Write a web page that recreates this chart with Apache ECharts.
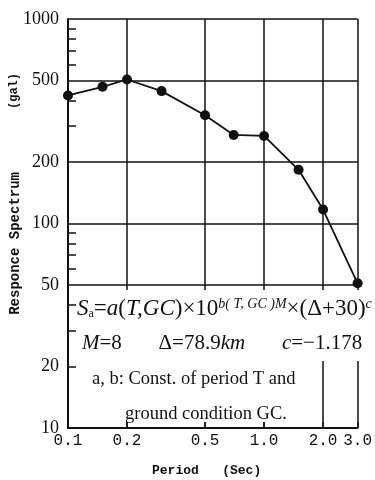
<!DOCTYPE html>
<html>
<head>
<meta charset="utf-8">
<script src="https://cdn.jsdelivr.net/npm/echarts@6/dist/echarts.min.js"></script>
<style>
    html, body { margin: 0; padding: 0; background: #fff; }
    #chart { width: 375px; height: 480px; }
</style>
</head>
<body>
<div id="chart"></div>
<script>
// periods (sec) and response spectrum values (gal)
var periods = [0.1, 0.15, 0.2, 0.3, 0.5, 0.7, 1.0, 1.5, 2.0, 3.0];
var spectrum = [423, 466, 506, 444, 338, 271, 268, 183, 117, 51];

// tick labels
var xLabels = [0.1, 0.2, 0.5, 1.0, 2.0, 3.0];
var yLabels = [10, 20, 50, 100, 200, 500, 1000];
var yGrid = [50, 100, 200, 500, 1000];
var yMinor = [20, 30, 40, 60, 70, 80, 90, 300, 400, 600, 700, 800, 900];

var serif = '"Liberation Serif", "DejaVu Serif", serif';
var mono = '"Liberation Mono", "DejaVu Sans Mono", monospace';

function getPoints(xs, ys) {
    var arr = [];
    for (var i = 0; i < xs.length; i++) {
        arr.push([xs[i], ys[i]]);
    }
    return arr;
}

var lineStyle = { color: '#111', width: 1.5 };

var option = {
    animation: false,
    backgroundColor: '#fff',
    grid: { left: 68, right: 15, top: 19, bottom: 52 },
    xAxis: {
        type: 'log',
        logBase: 10,
        min: 0.1,
        max: 3,
        axisLine: { lineStyle: { color: '#111', width: 2 } },
        axisTick: { inside: true, length: 6, customValues: [0.2, 0.5, 1, 2, 3], lineStyle: { color: '#111', width: 1.5 } },
        axisLabel: {
            customValues: xLabels,
            margin: 5,
            color: '#111',
            fontFamily: mono,
            fontSize: 16,
            formatter: function (v) { return Number(v).toFixed(1); }
        },
        splitLine: { show: true, lineStyle: lineStyle },
        minorTick: { show: false },
        minorSplitLine: { show: false }
    },
    yAxis: [
        {
            type: 'log',
            logBase: 10,
            min: 10,
            max: 1000,
            axisLine: { show: true, lineStyle: { color: '#111', width: 2 } },
            axisTick: { show: false, customValues: yGrid },
            axisLabel: {
                customValues: yLabels,
                margin: 9,
                color: '#111',
                fontFamily: serif,
                fontSize: 18,
                formatter: function (v) { return String(Math.round(v)); }
            },
            splitLine: { show: true, lineStyle: lineStyle }
        },
        {
            // inner minor ticks on the left frame
            type: 'log',
            logBase: 10,
            min: 10,
            max: 1000,
            position: 'left',
            axisLine: { show: false },
            axisTick: { show: true, inside: true, length: 8, customValues: yMinor, lineStyle: { color: '#111', width: 1.5 } },
            axisLabel: { show: false },
            splitLine: { show: false }
        }
    ],
    graphic: [
        // white panel behind the formula text
        { type: 'rect', z: 10, shape: { x: 77, y: 290, width: 298, height: 71 }, style: { fill: '#fff' } },
        { type: 'rect', z: 10, shape: { x: 77, y: 361, width: 242, height: 61 }, style: { fill: '#fff' } },
        {
            type: 'text', z: 11, left: 77, top: 297,
            style: {
                text: '{i|S}{sub|a}{n|=}{i|a}{n|(}{i|T,GC}{n|)×10}{sup|b( T, GC )M}{n|×(Δ+30)}{sup|c}',
                fill: '#111',
                rich: {
                    i: { fontFamily: serif, fontStyle: 'italic', fontSize: 23, fill: '#111' },
                    n: { fontFamily: serif, fontSize: 23, fill: '#111' },
                    sup: { fontFamily: serif, fontStyle: 'italic', fontSize: 14, fill: '#111', verticalAlign: 'top' },
                    sub: { fontFamily: serif, fontSize: 12, fill: '#111', verticalAlign: 'bottom' }
                }
            }
        },
        {
            type: 'text', z: 11, left: 82, top: 333,
            style: {
                text: '{i|M}{n|=8       Δ=78.9}{i|km}{n|       }{i|c}{n|=−1.178}',
                rich: {
                    i: { fontFamily: serif, fontStyle: 'italic', fontSize: 21, fill: '#111' },
                    n: { fontFamily: serif, fontSize: 21, fill: '#111' }
                }
            }
        },
        {
            type: 'text', z: 11, left: 92, top: 370,
            style: { text: 'a, b: Const. of period T and', fontFamily: serif, fontSize: 18.5, fill: '#111' }
        },
        {
            type: 'text', z: 11, left: 125, top: 405,
            style: { text: 'ground condition GC.', fontFamily: serif, fontSize: 18.5, fill: '#111' }
        },
        // axis names
        {
            type: 'text', left: 8, top: 73, rotation: Math.PI / 2,
            style: { text: '(gal)', fontFamily: mono, fontSize: 12, fontWeight: 'bold', fill: '#111' }
        },
        {
            type: 'text', left: 8, top: 172, rotation: Math.PI / 2,
            style: { text: 'Responce Spectrum', fontFamily: mono, fontSize: 14, fontWeight: 'bold', fill: '#111' }
        },
        {
            type: 'text', left: 152, top: 464,
            style: { text: 'Period   (Sec)', fontFamily: mono, fontSize: 13, fontWeight: 'bold', fill: '#111' }
        }
    ],
    series: [
        {
            type: 'line',
            xAxisIndex: 0,
            yAxisIndex: 0,
            z: 5,
            data: getPoints(periods, spectrum),
            symbol: 'circle',
            symbolSize: 10,
            itemStyle: { color: '#111' },
            lineStyle: { color: '#111', width: 1.8 }
        }
    ]
};

var myChart = echarts.init(document.getElementById('chart'), null, { renderer: 'canvas' });
myChart.setOption(option);
</script>
</body>
</html>
